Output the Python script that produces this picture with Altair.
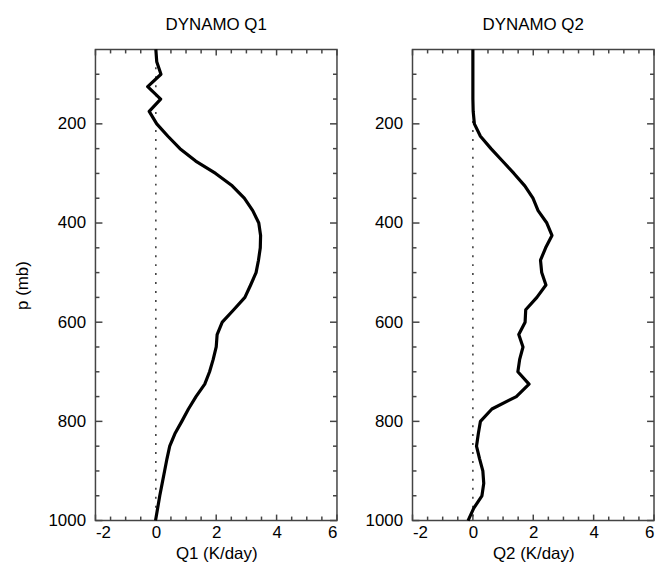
import altair as alt
import pandas as pd

# Pressure levels (mb)
P_LEVELS = [50, 75, 100, 125, 150, 175, 200, 225, 250, 275, 300, 325, 350, 375,
            400, 425, 450, 475, 500, 525, 550, 575, 600, 625, 650, 675, 700, 725,
            750, 775, 800, 825, 850, 875, 900, 925, 950, 975, 1000]

# Q1 (K/day)
Q1 = [0.0, 0.03, 0.17, -0.27, 0.16, -0.22, 0.03, 0.40, 0.80, 1.32, 1.98, 2.53,
      2.93, 3.21, 3.41, 3.47, 3.46, 3.40, 3.32, 3.14, 2.95, 2.58, 2.20, 2.03,
      2.00, 1.90, 1.78, 1.62, 1.33, 1.08, 0.86, 0.63, 0.46, 0.37, 0.29, 0.21,
      0.13, 0.06, -0.01]

# Q2 (K/day)
Q2 = [0.0, 0.0, 0.0, 0.0, 0.0, 0.01, 0.05, 0.25, 0.60, 0.98, 1.36, 1.72, 1.99,
      2.16, 2.45, 2.62, 2.41, 2.24, 2.28, 2.42, 2.12, 1.75, 1.73, 1.52, 1.66,
      1.55, 1.49, 1.86, 1.44, 0.63, 0.25, 0.18, 0.12, 0.22, 0.33, 0.36, 0.30,
      0.03, -0.16]

X_LABELS = [-2, 0, 2, 4, 6]
X_MINOR = [-1.5, -1.0, -0.5, 0.5, 1.0, 1.5, 2.5, 3.0, 3.5, 4.5, 5.0, 5.5]
Y_LABELS = [200, 400, 600, 800, 1000]
Y_MINOR = [100, 150, 250, 300, 350, 450, 500, 550, 650, 700, 750, 850, 900, 950]
ZERO_LINE = {"q": [0], "p": [50], "p2": [1000]}

W = 243
H = 474
FONT = "Liberation Sans"
FRAME = "#444444"


def panel(qvals, title, xtitle, ytitle):
    xs = alt.Scale(domain=[-2, 6], nice=False, zero=False)
    ys = alt.Scale(domain=[50, 1000], nice=False, zero=False, reverse=True)

    xaxis = alt.Axis(values=X_LABELS, labelExpr="datum.value + ''", ticks=False,
                     domain=False, grid=False, labelPadding=4, title=xtitle,
                     titlePadding=5)
    yargs = dict(values=Y_LABELS, labelExpr="datum.value + ''", ticks=False,
                 domain=False, grid=False, labelPadding=10)
    if ytitle:
        yargs.update(title=ytitle, titlePadding=17)
    else:
        yargs.update(title="")
    yaxis = alt.Axis(**yargs)

    curve = pd.DataFrame({"q": qvals, "p": P_LEVELS})
    line = alt.Chart(curve).mark_line(color="black", strokeWidth=3.2,
                                      strokeJoin="round").encode(
        x=alt.X("q:Q", scale=xs, axis=xaxis),
        y=alt.Y("p:Q", scale=ys, axis=yaxis),
        order=alt.Order("p:Q"),
    )

    zero = alt.Chart(pd.DataFrame(ZERO_LINE)).mark_rule(
        color="#333333", strokeWidth=1.5, strokeDash=[2, 7]).encode(
        x=alt.X("q:Q", scale=xs),
        y=alt.Y("p:Q", scale=ys),
        y2="p2:Q",
    )

    def xticks(vals, length):
        df = pd.DataFrame({"q": vals})
        bot = alt.Chart(df).mark_rule(color=FRAME, strokeWidth=1.5).encode(
            x=alt.X("q:Q", scale=xs), y=alt.value(H), y2=alt.value(H - length))
        top = alt.Chart(df).mark_rule(color=FRAME, strokeWidth=1.5).encode(
            x=alt.X("q:Q", scale=xs), y=alt.value(0), y2=alt.value(length))
        return [bot, top]

    def yticks(vals, length):
        df = pd.DataFrame({"p": vals})
        lft = alt.Chart(df).mark_rule(color=FRAME, strokeWidth=1.5).encode(
            y=alt.Y("p:Q", scale=ys), x=alt.value(0), x2=alt.value(length))
        rgt = alt.Chart(df).mark_rule(color=FRAME, strokeWidth=1.5).encode(
            y=alt.Y("p:Q", scale=ys), x=alt.value(W), x2=alt.value(W - length))
        return [lft, rgt]

    layers = [zero]
    layers += xticks(X_MINOR, 4) + xticks(X_LABELS, 6)
    layers += yticks(Y_MINOR, 4) + yticks(Y_LABELS, 7)
    layers.append(line)

    return alt.layer(*layers).properties(
        width=W, height=H,
        title=alt.TitleParams(title, fontSize=17, font=FONT, fontWeight="normal",
                              color="black", offset=14),
    )


left = panel(Q1, "DYNAMO Q1", "Q1 (K/day)", "p (mb)")
right = panel(Q2, "DYNAMO Q2", "Q2 (K/day)", None)

chart = alt.hconcat(left, right, spacing=25).properties(
    padding={"left": 4, "top": 5, "right": 0, "bottom": 0},
).configure_view(
    stroke=FRAME, strokeWidth=1.5,
).configure_axis(
    labelFont=FONT, titleFont=FONT, labelFontSize=17, titleFontSize=17,
    titleFontWeight="normal", labelColor="black", titleColor="black",
)

chart.save("out.html", embed_options={"renderer": "svg", "actions": False})
